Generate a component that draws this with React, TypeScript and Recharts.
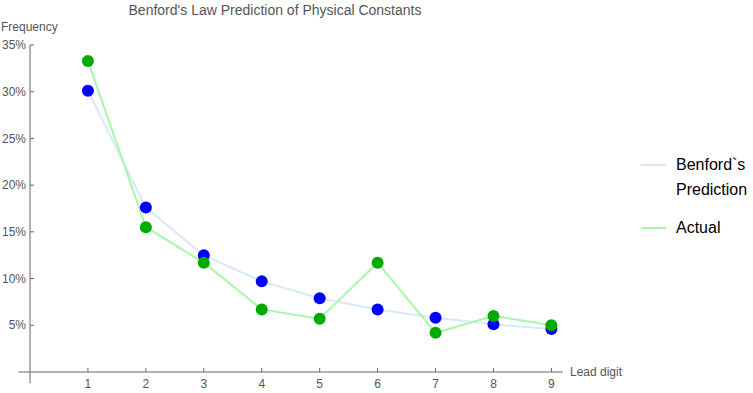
import { LineChart, Line, XAxis, YAxis, ReferenceLine } from 'recharts';

const digits = [1, 2, 3, 4, 5, 6, 7, 8, 9];
const benfordValues = [30.1, 17.6, 12.5, 9.7, 7.9, 6.7, 5.8, 5.1, 4.6];
const actualValues = [33.3, 15.5, 11.7, 6.7, 5.7, 11.7, 4.2, 6.0, 5.0];
const yTicks = [5, 10, 15, 20, 25, 30, 35];

const seriesNames = ['Benford`s Prediction', 'Actual'];
const lineColors = ['#d8e8fb', '#a8f7a8'];
const dotColors = ['#0000ff', '#00aa00'];

const data = digits.map((d, i) => ({ digit: d, benford: benfordValues[i], actual: actualValues[i] }));

const axisColor = '#666';
const labelColor = '#555';
const font = '"Liberation Sans", Arial, sans-serif';

function renderYTick(props: any) {
  const { x, y, payload } = props;
  return (
    <g key={payload.value}>
      <line x1={x} x2={x + 4} y1={y} y2={y} stroke={axisColor} />
      <text x={x - 4} y={y} dy="0.35em" textAnchor="end" fontSize={12} fill={labelColor} fontFamily={font}>
        {payload.value}%
      </text>
    </g>
  );
}

function renderXTick(props: any) {
  const { x, y, payload } = props;
  return (
    <g key={payload.value}>
      <line x1={x} x2={x} y1={y} y2={y - 4} stroke={axisColor} />
      <text x={x} y={y + 16} textAnchor="middle" fontSize={12} fill={labelColor} fontFamily={font}>
        {payload.value}
      </text>
    </g>
  );
}

export default function App() {
  return (
    <div style={{ position: 'absolute', left: 0, top: 0, width: 753, height: 393, background: '#fff', fontFamily: font }}>
      <LineChart
        width={753}
        height={393}
        data={data}
        margin={{ top: 45, right: 190, left: 0, bottom: 0 }}
      >
        <XAxis
          dataKey="digit"
          type="number"
          domain={[0, 9.2]}
          ticks={digits}
          height={21}
          tickSize={0}
          tickMargin={0}
          axisLine={false}
          tickLine={false}
          tick={renderXTick}
          interval={0}
        />
        <YAxis
          type="number"
          domain={[0, 35]}
          ticks={yTicks}
          width={30}
          tickSize={0}
          tickMargin={0}
          axisLine={false}
          tickLine={false}
          tick={renderYTick}
          interval={0}
        />
        <ReferenceLine
          segment={[{ x: -0.2, y: 0 }, { x: 9.2, y: 0 }]}
          stroke={axisColor}
          ifOverflow="visible"
        />
        <ReferenceLine
          segment={[{ x: 0, y: -1.2 }, { x: 0, y: 35 }]}
          stroke={axisColor}
          ifOverflow="visible"
        />
        <Line
          dataKey="benford"
          name={seriesNames[0]}
          stroke={lineColors[0]}
          strokeWidth={2}
          dot={{ r: 6, fill: dotColors[0], stroke: 'none' }}
          activeDot={false}
          isAnimationActive={false}
        />
        <Line
          dataKey="actual"
          name={seriesNames[1]}
          stroke={lineColors[1]}
          strokeWidth={2}
          dot={{ r: 6, fill: dotColors[1], stroke: 'none' }}
          activeDot={false}
          isAnimationActive={false}
        />
      </LineChart>

      <div style={{ position: 'absolute', left: 0, width: 550, top: 1, textAlign: 'center', fontSize: 14, color: labelColor, lineHeight: '18px' }}>
        Benford's Law Prediction of Physical Constants
      </div>
      <div style={{ position: 'absolute', left: 1, top: 19, fontSize: 12, color: labelColor, lineHeight: '16px' }}>
        Frequency
      </div>
      <div style={{ position: 'absolute', left: 570, top: 364, fontSize: 12, color: labelColor, lineHeight: '16px' }}>
        Lead digit
      </div>

      <div style={{ position: 'absolute', left: 641, top: 152, fontSize: 16, color: '#000', lineHeight: '25px' }}>
        {seriesNames.map((name, i) => (
          <div key={name} style={{ display: 'flex', alignItems: 'flex-start', marginBottom: 13 }}>
            <div style={{ width: 25, height: 2, background: lineColors[i], marginTop: 12, marginRight: 10 }} />
            <div style={{ width: 85 }}>{name}</div>
          </div>
        ))}
      </div>
    </div>
  );
}
